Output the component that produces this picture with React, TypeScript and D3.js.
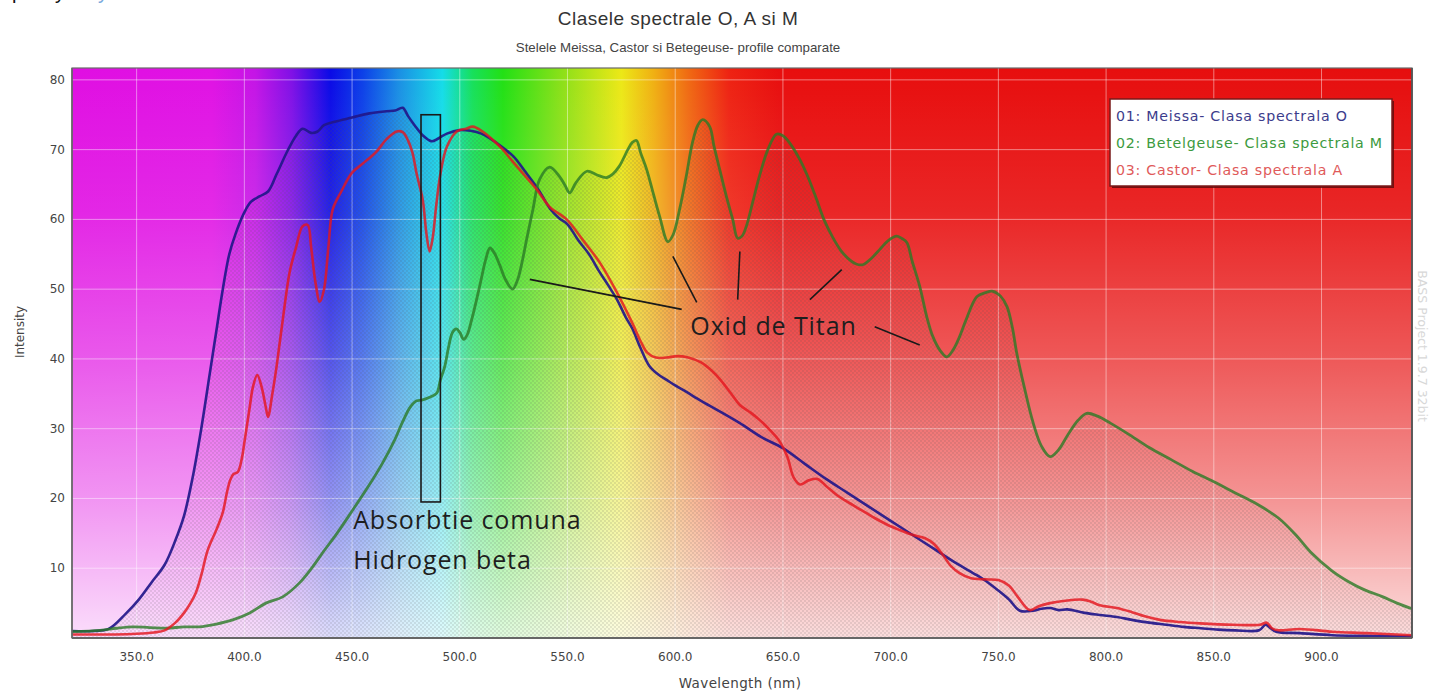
import React from "react";
import * as d3 from "d3";

const W = 1433;
const H = 695;

const TITLE = "Clasele spectrale O, A si M";
const SUBTITLE = "Stelele Meissa, Castor si Betegeuse- profile comparate";
const X_LABEL = "Wavelength (nm)";
const Y_LABEL = "Intensity";
const WATERMARK = "BASS Project 1.9.7  32bit";

const X_TICKS = [350, 400, 450, 500, 550, 600, 650, 700, 750, 800, 850, 900];
const Y_TICKS = [10, 20, 30, 40, 50, 60, 70, 80];

const LEGEND_NAMES = [
  "01: Meissa- Clasa spectrala O",
  "02: Betelgeuse- Clasa spectrala M",
  "03: Castor- Clasa spectrala A",
];

// [wavelength nm, intensity]
const MEISSA: [number, number][] = [
  [320, 1.0], [330, 1.0], [337, 1.3], [345, 3.5], [351, 5.5], [357, 8], [363, 10.5], [368, 14],
  [372, 17.5], [376, 23], [380, 30], [384, 38], [387, 44], [390, 50], [393, 55], [396, 58],
  [400, 61], [403, 62.5], [407, 63.3], [411, 64], [415, 66.5], [420, 69.8], [424, 72], [427, 73],
  [431, 72.4], [434, 72.6], [437, 73.5], [442, 74], [450, 74.6], [458, 75.2], [466, 75.5],
  [470, 75.6], [473.5, 76], [476, 74.8], [479, 73.5], [483, 72], [487, 71.2], [490, 71.6],
  [494, 72.3], [500, 72.8], [505, 72.7], [510, 72.3], [514, 71.6], [519, 70.5], [525, 69],
  [530, 67], [536, 64.5], [542, 61.5], [546, 60.2], [550, 59.3], [555, 57], [560, 55],
  [565, 52.4], [569, 50.5], [573, 48.5], [577, 46], [580, 44.4], [584, 41.5], [588, 39],
  [592, 37.8], [596, 37], [600, 36.2], [605, 35.3], [612, 34], [620, 32.6], [630, 30.8],
  [640, 28.8], [650, 27.2], [660, 25], [670, 22.8], [680, 20.8], [690, 18.8], [700, 16.8],
  [710, 14.8], [720, 12.8], [730, 10.8], [740, 9], [745, 8], [750, 6.8], [755, 5.5],
  [760, 3.9], [766, 3.9], [770, 4.2], [774, 4.3], [778, 4.0], [782, 4.1], [790, 3.6],
  [797, 3.3], [805, 3.0], [812, 2.6], [820, 2.2], [828, 1.9], [836, 1.6], [844, 1.4],
  [852, 1.2], [860, 1.1], [871, 1.1], [874, 1.9], [876, 1.5], [879, 0.9], [890, 0.7],
  [905, 0.4], [920, 0.3], [942, 0.2],
];

const CASTOR: [number, number][] = [
  [320, 0.5], [330, 0.5], [340, 0.5], [350, 0.6], [358, 0.8], [363, 1.1], [368, 2.2],
  [372, 3.6], [375, 5], [377.5, 6.5], [380, 9], [383, 12.6], [387, 15.5], [390, 18], [392, 21],
  [393.5, 22.7], [395, 23.5], [397, 23.8], [399, 26], [400, 28], [402.5, 33.1], [404, 36],
  [406, 37.7], [408, 36], [410, 33], [411, 31.7], [413, 35], [415, 39], [418, 46], [421, 52.4],
  [424, 56], [427, 59], [429.4, 59.2], [431, 56], [433, 51], [435, 48.2], [437, 50], [439, 56],
  [441, 61.4], [445, 64], [450, 66.7], [455, 68], [461, 69.6], [466, 71.5], [470.7, 72.6],
  [473.5, 72.5], [476, 71.3], [478, 69.6], [480, 66.5], [482.8, 62.8], [484.5, 58], [486, 55.4],
  [487.5, 57.5], [489, 61.8], [491, 66.5], [494, 70.4], [498.6, 72.6], [503, 73], [506, 73.3],
  [510.6, 72.6], [515, 71.5], [520, 70], [524, 68.5], [529, 66.7], [535.7, 64.3], [541.7, 61.8],
  [549.6, 60], [557, 57.1], [565, 53.8], [573, 49.5], [580, 45.2], [584, 42.5], [587, 40.9],
  [591, 40.2], [596, 40.2], [601, 40.4], [606, 40.2], [612, 39.5], [617, 38.3], [621, 37],
  [626, 35], [630, 33.4], [635, 32.3], [639, 31.3], [644, 29.8], [648, 28.4], [652, 26],
  [655, 23], [658, 22], [662, 22.6], [666, 22.8], [670, 21.8], [675, 20.5], [680, 19.5],
  [686, 18.4], [692, 17.3], [698, 16.3], [704, 15.5], [710, 14.8], [716, 14.3], [720, 13.5],
  [724, 12], [728, 10.3], [732, 9.3], [737, 8.6], [744, 8.4], [750, 8.3], [755, 7.5],
  [759, 5.9], [764.6, 4.0], [769, 4.6], [774, 5], [780, 5.3], [789, 5.5], [793, 5.2],
  [797, 4.7], [805, 4.3], [812, 3.7], [818, 3.1], [825, 2.6], [834, 2.3], [843.5, 2.1],
  [858.8, 1.9], [871.4, 1.9], [874.6, 2.2], [877, 1.4], [880, 1.1], [890, 1.3], [905, 0.9],
  [921, 0.7], [942, 0.4],
];

const BETELGEUSE: [number, number][] = [
  [320, 0.9], [333, 1.1], [340.7, 1.4], [348, 1.6], [356, 1.5], [364, 1.4], [372, 1.6],
  [379, 1.6], [387, 2.0], [394.6, 2.6], [402.5, 3.6], [410, 5], [417.8, 5.9], [425.6, 7.9],
  [431.7, 10.2], [437, 12.5], [443, 15], [450, 18.2], [457.5, 21.7], [464, 25], [469.8, 28.4],
  [473.5, 31], [477, 33.1], [480, 34], [482.4, 34.1], [486, 34.5], [489.3, 35.1], [491, 37],
  [493, 38.9], [495, 42], [496.6, 43.8], [498.4, 44.3], [500, 43.8], [501.8, 42.8],
  [503.5, 43.5], [505.5, 45.6], [507.8, 48.5], [510, 51.5], [512, 54.2], [514, 55.9],
  [516, 55.2], [518.5, 53.5], [521, 51.5], [524.5, 50], [527, 51.5], [529, 54], [531, 57.1],
  [534, 61.5], [537, 65.7], [541.7, 67.5], [546.4, 66.1], [549, 64.8], [551, 63.8], [554, 65.3],
  [559, 66.9], [563.5, 66.4], [568, 66], [571, 66.5], [574, 67.6], [578, 70], [580, 71],
  [582, 71.3], [584, 69.5], [586.8, 67.1], [590, 63.5], [592.8, 60.4], [596.6, 56.8],
  [599, 57.8], [602, 61.4], [605, 66], [608, 71], [610.5, 73.5], [612.8, 74.3], [616, 73.3],
  [618, 70.5], [620.7, 67.1], [624, 63], [626.7, 60], [629, 57.3], [631, 57.6], [633, 59],
  [636, 62.5], [639, 66.1], [643, 70], [647, 72.2], [650, 72], [653, 71], [657.8, 68.6],
  [662, 65.8], [665.7, 62.8], [669, 60], [673, 57.5], [677, 55.5], [681, 54.2], [684, 53.6],
  [687, 53.5], [691, 54.4], [695, 55.7], [699, 57], [702.8, 57.6], [705, 57.3], [707.5, 56.7],
  [710, 54], [713.5, 50.4], [716.8, 46], [719.6, 43.2], [723, 41.2], [726, 40.3], [729, 41.3],
  [732, 43.2], [735, 45.6], [740, 48.9], [744, 49.5], [747.5, 49.7], [751, 49], [754, 47.5],
  [756.5, 44.5], [758.5, 40.9], [762, 36], [766, 31], [770, 27.5], [774, 26], [778, 27],
  [782, 29], [787, 31.2], [791, 32.2], [796, 31.8], [802, 30.8], [810, 29.3], [820, 27.3],
  [830, 25.6], [840, 23.9], [850, 22.4], [860, 20.8], [870, 19.2], [880, 17.2], [888, 14.8],
  [895, 12.3], [905, 9.6], [913, 8.0], [920, 6.9], [928.5, 5.9], [935, 5], [942, 4.2],
];

// spectrum background colour stops [nm, colour]
const SPECTRUM: [number, string][] = [
  [320, "#e00ee2"], [385, "#e012e4"], [405, "#c414e6"], [422, "#8010e6"], [440, "#0a0ae6"],
  [455, "#0c40e8"], [472, "#1a90e4"], [492, "#14dce8"], [506, "#16e05a"], [520, "#22e014"],
  [548, "#8ee018"], [575, "#ece816"], [590, "#f0b012"], [606, "#f06a12"], [625, "#ee2212"],
  [648, "#e80e0e"], [942, "#e60e0e"],
];

// annotation geometry in data units
const HBETA_BOX = { x0: 482, x1: 491, y0: 19.5, y1: 75 };
const HBETA_TEXT: [string, number, number][] = [
  ["Absorbtie comuna", 450.5, 15.6],
  ["Hidrogen beta", 450.5, 9.9],
];
const OXID_TEXT: [string, number, number] = ["Oxid de Titan", 607, 43.4];
const OXID_LINES: [number, number, number, number][] = [
  [532.5, 51.4, 603, 47.1],
  [598.9, 54.7, 610, 48.1],
  [630, 55.4, 629, 48.5],
  [677.3, 52.8, 662.5, 48.5],
  [692.6, 44.6, 713.5, 42],
];

const SERIES = [
  { name: LEGEND_NAMES[0], data: MEISSA, color: "#22178a", text: "#3c3c8c" },
  { name: LEGEND_NAMES[1], data: BETELGEUSE, color: "#2a7a26", text: "#3c9a40" },
  { name: LEGEND_NAMES[2], data: CASTOR, color: "#e4161e", text: "#e05a5a" },
];

const M = { left: 72, right: 1412, top: 68, bottom: 638 };

export default function App() {
  const x = d3.scaleLinear().domain([320, 942]).range([M.left, M.right]);
  const y = d3.scaleLinear().domain([0, 81.7]).range([M.bottom, M.top]);

  const line = d3
    .line<[number, number]>()
    .x((d) => x(d[0]))
    .y((d) => y(d[1]))
    .curve(d3.curveCatmullRom.alpha(0.5));
  const area = d3
    .area<[number, number]>()
    .x((d) => x(d[0]))
    .y0(y(0))
    .y1((d) => y(d[1]))
    .curve(d3.curveCatmullRom.alpha(0.5));

  const pw = M.right - M.left;
  const ph = M.bottom - M.top;
  const fmt = d3.format(".1f");

  const legendX = M.right - 302;
  const legendY = M.top + 31;

  return (
    <svg
      width={W}
      height={H}
      style={{ position: "absolute", left: 0, top: 0, background: "#ffffff" }}
      fontFamily="'DejaVu Sans', sans-serif"
    >
      <defs>
        <linearGradient id="spec" gradientUnits="userSpaceOnUse" x1={M.left} x2={M.right} y1={0} y2={0}>
          {SPECTRUM.map(([nm, c], i) => (
            <stop key={i} offset={(x(nm) - M.left) / pw} stopColor={c} />
          ))}
        </linearGradient>
        <linearGradient id="fade" x1="0" x2="0" y1="0" y2="1">
          <stop offset="0" stopColor="#fff" stopOpacity={0} />
          <stop offset="0.25" stopColor="#fff" stopOpacity={0.1} />
          <stop offset="0.5" stopColor="#fff" stopOpacity={0.3} />
          <stop offset="0.75" stopColor="#fff" stopOpacity={0.55} />
          <stop offset="1" stopColor="#fff" stopOpacity={0.86} />
        </linearGradient>
        <pattern id="dots" width={4} height={4} patternUnits="userSpaceOnUse">
          <circle cx={1} cy={1} r={0.7} fill="rgba(80,80,80,0.36)" />
          <circle cx={3} cy={3} r={0.7} fill="rgba(80,80,80,0.36)" />
        </pattern>
        <clipPath id="under">
          {SERIES.map((s, i) => (
            <path key={i} d={area(s.data) || ""} />
          ))}
        </clipPath>
        <clipPath id="plot">
          <rect x={M.left} y={M.top} width={pw} height={ph} />
        </clipPath>
      </defs>

      {/* cropped text fragments at top-left */}
      <text x={12} y={-1} fontSize={20} fill="#111" fontFamily="'Liberation Sans', sans-serif">p</text>
      <text x={55} y={-1} fontSize={20} fill="#111" fontFamily="'Liberation Sans', sans-serif">y</text>
      <text x={98} y={-1} fontSize={20} fill="#7aa8dc" fontFamily="'Liberation Sans', sans-serif">y</text>

      {/* title */}
      <text x={678} y={25} textAnchor="middle" fontSize={19} letterSpacing={0.5} fill="#333" fontFamily="'Liberation Sans', sans-serif">
        {TITLE}
      </text>
      <text x={678} y={52} textAnchor="middle" fontSize={13.3} fill="#444" fontFamily="'Liberation Sans', sans-serif">
        {SUBTITLE}
      </text>

      {/* background */}
      <rect x={M.left} y={M.top} width={pw} height={ph} fill="url(#spec)" />
      <rect x={M.left} y={M.top} width={pw} height={ph} fill="url(#fade)" />

      {/* grid */}
      <g stroke="#ffffff" strokeOpacity={0.45} strokeWidth={1}>
        {X_TICKS.map((t) => (
          <line key={"gx" + t} x1={x(t)} x2={x(t)} y1={M.top} y2={M.bottom} />
        ))}
        {Y_TICKS.map((t) => (
          <line key={"gy" + t} x1={M.left} x2={M.right} y1={y(t)} y2={y(t)} />
        ))}
      </g>

      {/* dotted fill under curves */}
      <g clipPath="url(#plot)">
        <rect x={M.left} y={M.top} width={pw} height={ph} fill="url(#dots)" clipPath="url(#under)" />
      </g>

      {/* lines */}
      <g clipPath="url(#plot)" fill="none" strokeLinejoin="round">
        <path d={line(MEISSA) || ""} stroke={SERIES[0].color} strokeWidth={2.6} strokeOpacity={0.92} />
        <path d={line(BETELGEUSE) || ""} stroke={SERIES[1].color} strokeWidth={2.8} strokeOpacity={0.8} />
        <path d={line(CASTOR) || ""} stroke={SERIES[2].color} strokeWidth={2.6} strokeOpacity={0.82} />
      </g>

      {/* frame */}
      <rect x={M.left} y={M.top} width={pw} height={ph} fill="none" stroke="#6a6a6a" strokeWidth={1.2} />
      <line x1={M.left} x2={M.right} y1={M.bottom} y2={M.bottom} stroke="#666" strokeWidth={2} />
      <line x1={M.left} x2={M.left} y1={M.top} y2={M.bottom} stroke="#666" strokeWidth={1.5} />
      <line x1={M.right} x2={M.right} y1={M.top} y2={M.bottom} stroke="#555" strokeWidth={1.8} />

      {/* ticks */}
      <g fontSize={12} fill="#444">
        {X_TICKS.map((t) => (
          <text key={"tx" + t} x={x(t)} y={M.bottom + 23} textAnchor="middle">
            {fmt(t)}
          </text>
        ))}
        {Y_TICKS.map((t) => (
          <text key={"ty" + t} x={M.left - 7} y={y(t) + 4} textAnchor="end">
            {t}
          </text>
        ))}
      </g>
      <text x={740} y={688} textAnchor="middle" fontSize={13.5} letterSpacing={0.4} fill="#444">
        {X_LABEL}
      </text>
      <text
        transform={`translate(24, 332) rotate(-90)`}
        textAnchor="middle"
        fontSize={12}
        fill="#444"
      >
        {Y_LABEL}
      </text>
      <text
        transform={`translate(1418, 346) rotate(90)`}
        textAnchor="middle"
        fontSize={12.5}
        fill="#d8d8d8"
      >
        {WATERMARK}
      </text>

      {/* legend */}
      <rect x={legendX + 2} y={legendY + 2} width={282} height={87} fill="#5a0a0a" opacity={0.8} />
      <rect x={legendX} y={legendY} width={282} height={87} fill="#ffffff" stroke="#7a1a1a" strokeWidth={1.5} />
      {SERIES.map((s, i) => (
        <text key={"lg" + i} x={legendX + 6} y={legendY + 22 + i * 27} fontSize={14.2} letterSpacing={0.75} fill={s.text}>
          {s.name}
        </text>
      ))}

      {/* annotations */}
      <rect
        x={x(HBETA_BOX.x0)}
        y={y(HBETA_BOX.y1)}
        width={x(HBETA_BOX.x1) - x(HBETA_BOX.x0)}
        height={y(HBETA_BOX.y0) - y(HBETA_BOX.y1)}
        fill="none"
        stroke="#1a1a1a"
        strokeWidth={1.6}
      />
      <g fontFamily="'Open Sans', sans-serif" fontSize={25} letterSpacing={0.9} fill="#1e1e1e">
        {HBETA_TEXT.map(([t, nm, v]) => (
          <text key={t} x={x(nm)} y={y(v)}>
            {t}
          </text>
        ))}
        <text x={x(OXID_TEXT[1])} y={y(OXID_TEXT[2])}>{OXID_TEXT[0]}</text>
      </g>
      <g stroke="#1a1a1a" strokeWidth={1.6}>
        {OXID_LINES.map(([a, b, c, d], i) => (
          <line key={"ol" + i} x1={x(a)} y1={y(b)} x2={x(c)} y2={y(d)} />
        ))}
      </g>
    </svg>
  );
}
